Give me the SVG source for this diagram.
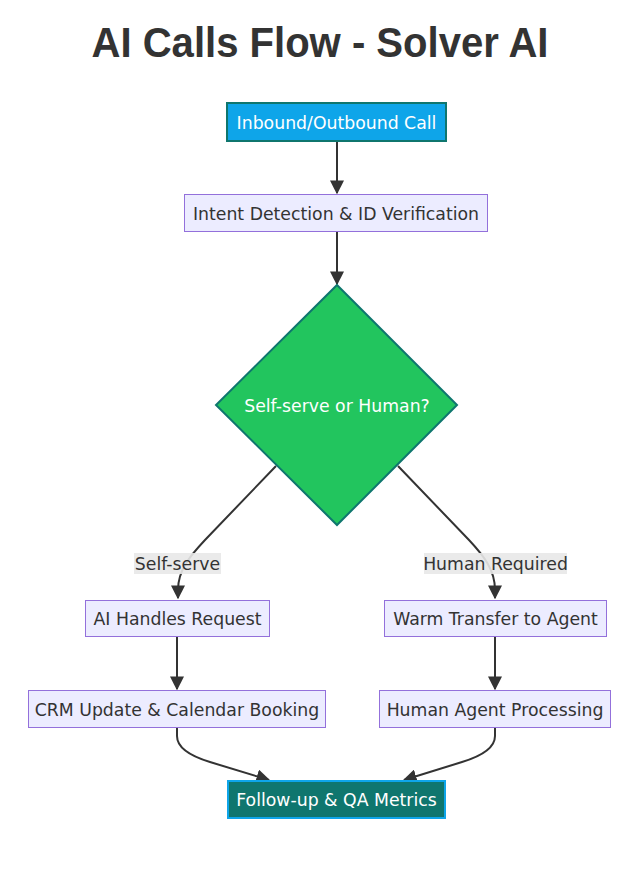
<svg xmlns="http://www.w3.org/2000/svg" width="640" height="876" viewBox="0 0 640 876">
<defs>
<style>
.title{font-family:"Liberation Sans",Arial,sans-serif;font-size:42px;font-weight:bold;fill:#333;text-anchor:middle}
.t{font-family:"DejaVu Sans",Verdana,sans-serif;font-size:17.3px;text-anchor:middle;dominant-baseline:central}
.dark{fill:#333}
.light{fill:#fff}
.n{fill:#ECECFF;stroke:#9370DB;stroke-width:1}
.start{fill:#0ea5e9;stroke:#0f766e;stroke-width:2}
.end{fill:#0f766e;stroke:#0ea5e9;stroke-width:2}
.dec{fill:#22c55e;stroke:#0f766e;stroke-width:2}
.e{fill:none;stroke:#333;stroke-width:2;marker-end:url(#arr)}
.lb{fill:#e8e8e8;opacity:0.9}
</style>
<marker id="arr" viewBox="0 0 10 10" refX="9" refY="5" markerWidth="7" markerHeight="7" orient="auto" markerUnits="strokeWidth">
<path d="M0,0 L10,5 L0,10 z" fill="#333"/>
</marker>
</defs>
<rect width="640" height="876" fill="#fff"/>
<text class="title" x="320" y="57" textLength="457" lengthAdjust="spacingAndGlyphs">AI Calls Flow - Solver AI</text>
<g id="connectors">
<path class="e" d="M337,141 L337,193"/>
<path class="e" d="M337,231 L337,284"/>
<path class="e" d="M276,466 L205,540 C190,556 178,570 178,590 L178,598"/>
<path class="e" d="M398,466 L469,540 C484,556 495,570 495,590 L495,598"/>
<path class="e" d="M177,637 L177,689"/>
<path class="e" d="M495,637 L495,689"/>
<path class="e" d="M177,728 L177,736 Q177,752 210,762 L269,780"/>
<path class="e" d="M495,728 L495,736 Q495,752 462,762 L404,780"/>
<g id="label-selfserve">
<rect class="lb" x="134" y="553" width="87" height="21"/>
<text class="t dark" x="177.5" y="564">Self-serve</text>
</g>
<g id="label-human">
<rect class="lb" x="424" y="553" width="143" height="21"/>
<text class="t dark" x="495.5" y="564">Human Required</text>
</g>
</g>
<g id="n1">
<rect class="start" x="227" y="103" width="219" height="38"/>
<text class="t light" x="336.5" y="123">Inbound/Outbound Call</text>
</g>
<g id="n2">
<rect class="n" x="184.5" y="194.5" width="303" height="37"/>
<text class="t dark" x="336" y="213.5">Intent Detection &amp; ID Verification</text>
</g>
<g id="n3">
<polygon class="dec" points="337,285 457,405 337,525 216,405"/>
<text class="t light" x="337" y="405.5">Self-serve or Human?</text>
</g>
<g id="n4">
<rect class="n" x="85.5" y="600.5" width="184" height="36"/>
<text class="t dark" x="177.5" y="619">AI Handles Request</text>
</g>
<g id="n5">
<rect class="n" x="384.5" y="600.5" width="222" height="36"/>
<text class="t dark" x="495.5" y="619">Warm Transfer to Agent</text>
</g>
<g id="n6">
<rect class="n" x="28.5" y="690.5" width="297" height="37"/>
<text class="t dark" x="177" y="709.5">CRM Update &amp; Calendar Booking</text>
</g>
<g id="n7">
<rect class="n" x="379.5" y="690.5" width="231" height="37"/>
<text class="t dark" x="495" y="709.5">Human Agent Processing</text>
</g>
<g id="n8">
<rect class="end" x="228" y="781" width="217" height="37"/>
<text class="t light" x="336.5" y="800">Follow-up &amp; QA Metrics</text>
</g>
</svg>
